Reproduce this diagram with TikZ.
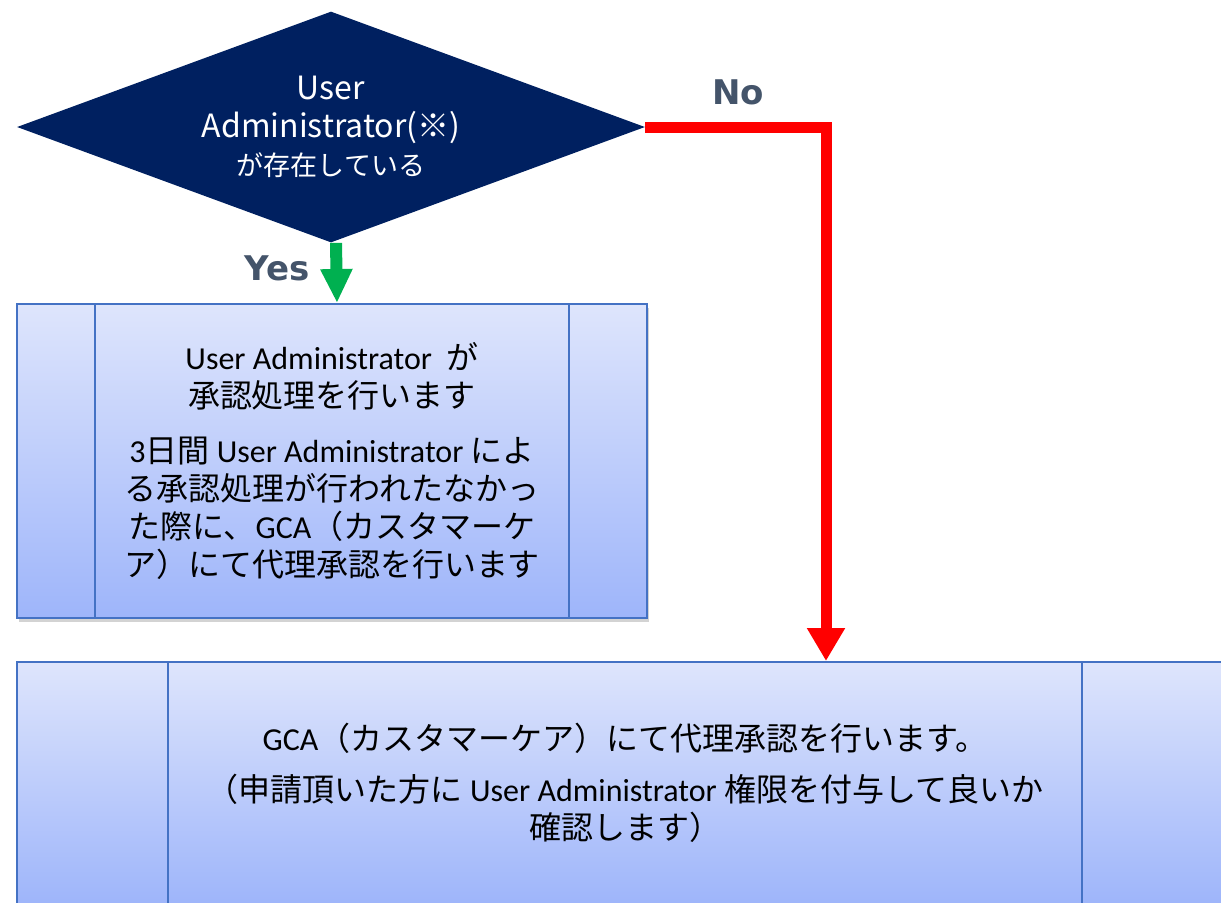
\documentclass[tikz,border=0pt]{standalone}
\usepackage{fontspec}
\setmainfont{Carlito}
\newfontfamily\jp{Noto Sans CJK JP}
\newfontfamily\answerfont{DejaVu Sans}
\usetikzlibrary{shapes.geometric,arrows.meta,shadows}
\definecolor{navy}{RGB}{0,32,96}
\definecolor{boxedge}{RGB}{68,114,196}
\definecolor{boxtop}{RGB}{222,229,252}
\definecolor{boxbottom}{RGB}{158,181,250}
\definecolor{slate}{RGB}{68,84,106}
\definecolor{yesgreen}{RGB}{0,176,80}
\definecolor{nored}{RGB}{255,0,0}

\begin{document}
\begin{tikzpicture}[x=0.5pt,y=-0.5pt,
  decide/.style={diamond, aspect=2.72, fill=navy, text=white, inner sep=0pt,
    minimum width=314pt, minimum height=115.5pt, align=center,
    font=\jp\fontsize{16pt}{19pt}\selectfont},
  procbox/.style={rectangle, draw=boxedge, line width=1pt, top color=boxtop,
    bottom color=boxbottom, align=center, inner sep=0pt,
    font=\fontsize{16pt}{19pt}\selectfont,
    drop shadow={shadow xshift=1pt, shadow yshift=-2pt, opacity=0.35}},
  sideline/.style={draw=boxedge, line width=1pt},
  answer/.style={font=\answerfont\bfseries\fontsize{17pt}{20pt}\selectfont, text=slate},
  yesarrow/.style={draw=yesgreen, line width=6pt, -{Triangle[length=17pt,width=15pt]}},
  noarrow/.style={draw=nored, line width=5.5pt, line join=miter,
    -{Triangle[length=16.5pt,width=18pt]}}]
\path [use as bounding box] (0,0) rectangle (1221,902);
\clip (0,0) rectangle (1221,902);

\node [decide] (dec) at (331,127) {User\\Administrator(※)\\{\fontsize{13.5pt}{19pt}\selectfont が存在している}};

\node [procbox, minimum width=315pt, minimum height=157pt] (appr) at (332,461)
  {User Administrator\ \ {\jp が}\\
   {\jp 承認処理を行います}\\[8.5pt]
   3{\jp 日間} User Administrator {\jp によ}\\
   {\jp る承認処理が行われたなかっ}\\
   {\jp た際に、}GCA{\jp （カスタマーケ}\\
   {\jp ア）にて代理承認を行います}};
\draw [sideline] ([xshift=39.5pt]appr.north west) -- ([xshift=39.5pt]appr.south west);
\draw [sideline] ([xshift=-39.5pt]appr.north east) -- ([xshift=-39.5pt]appr.south east);

\node [procbox, minimum width=608pt, minimum height=121pt] (proxy) at (625,783)
  {GCA{\jp （カスタマーケア）にて代理承認を行います。}\\[6.5pt]
   {\jp （申請頂いた方に} User Administrator {\jp 権限を付与して良いか}\\
   {\jp 確認します）}};
\draw [sideline] ([xshift=76pt]proxy.north west) -- ([xshift=76pt]proxy.south west);
\draw [sideline] ([xshift=-76pt]proxy.north east) -- ([xshift=-76pt]proxy.south east);

\draw [yesarrow] ([xshift=2.5pt]dec.south) -- ([xshift=2.5pt]appr.north);
\node [answer] (yes) at (277,268) {Yes};

\coordinate (noturn) at (826,127);
\draw [noarrow] (dec.east) -- (noturn) -- (noturn |- proxy.north);
\node [answer] (no) at (738,92) {No};
\end{tikzpicture}
\end{document}
